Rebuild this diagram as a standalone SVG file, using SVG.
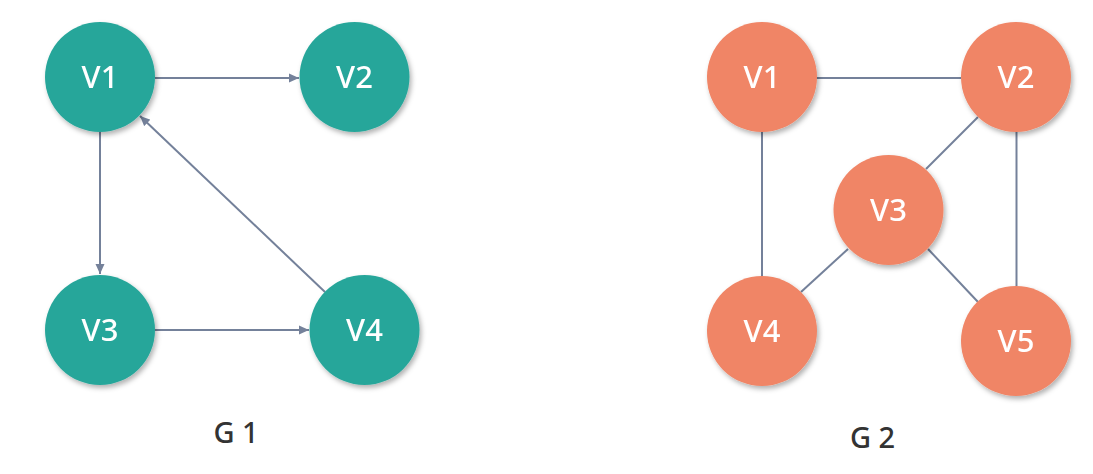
<svg xmlns="http://www.w3.org/2000/svg" width="1093" height="474" viewBox="0 0 1093 474">
<style>
.edge{stroke:#74819a;stroke-width:2;fill:none}
.g1 circle{fill:#27a69a}
.g2 circle{fill:#f08566}
.node{filter:url(#sh)}
.lbl{font-family:"Noto Sans","Open Sans",sans-serif;font-size:31px;font-weight:500;fill:#ffffff;text-anchor:middle}
.cap{font-family:"Noto Sans","Open Sans",sans-serif;font-size:29px;font-weight:500;fill:#333333;text-anchor:middle}
</style>
<defs>
<filter id="sh" x="-30%" y="-30%" width="160%" height="160%">
<feDropShadow dx="2" dy="3" stdDeviation="2.5" flood-color="#000" flood-opacity="0.3"/>
</filter>
<marker id="arr" viewBox="0 0 10 10" refX="10" refY="5" markerWidth="10" markerHeight="10" markerUnits="userSpaceOnUse" orient="auto">
<path d="M0,0.5 L10,5 L0,9.5 Z" fill="#74819a"/>
</marker>
</defs>
<rect width="1093" height="474" fill="#ffffff"/>
<g id="connectors">
<line class="edge" x1="155" y1="78" x2="299" y2="78" marker-end="url(#arr)"/>
<line class="edge" x1="100" y1="132" x2="100" y2="274" marker-end="url(#arr)"/>
<line class="edge" x1="155" y1="330" x2="309" y2="330" marker-end="url(#arr)"/>
<line class="edge" x1="325" y1="292" x2="140" y2="116" marker-end="url(#arr)"/>
<line class="edge" x1="816" y1="78" x2="961" y2="78"/>
<line class="edge" x1="762" y1="132" x2="762" y2="276"/>
<line class="edge" x1="1016.5" y1="132" x2="1016.5" y2="286"/>
<line class="edge" x1="978" y1="117" x2="926" y2="169"/>
<line class="edge" x1="848" y1="249" x2="801" y2="292"/>
<line class="edge" x1="928" y1="249" x2="978" y2="302"/>
</g>
<g class="g1">
<g id="g1-v1" class="node"><circle cx="100" cy="77" r="55"/><text class="lbl" x="100" y="88">V1</text></g>
<g id="g1-v2" class="node"><circle cx="354.5" cy="77" r="55"/><text class="lbl" x="354.5" y="88">V2</text></g>
<g id="g1-v3" class="node"><circle cx="100" cy="330" r="55"/><text class="lbl" x="100" y="341">V3</text></g>
<g id="g1-v4" class="node"><circle cx="364.5" cy="330" r="55"/><text class="lbl" x="364.5" y="341">V4</text></g>
</g>
<g class="g2">
<g id="g2-v1" class="node"><circle cx="762" cy="77" r="55"/><text class="lbl" x="762" y="88">V1</text></g>
<g id="g2-v2" class="node"><circle cx="1016" cy="77" r="55"/><text class="lbl" x="1016" y="88">V2</text></g>
<g id="g2-v3" class="node"><circle cx="888.5" cy="210" r="55"/><text class="lbl" x="888.5" y="221">V3</text></g>
<g id="g2-v4" class="node"><circle cx="762" cy="331" r="55"/><text class="lbl" x="762" y="342">V4</text></g>
<g id="g2-v5" class="node"><circle cx="1016" cy="341" r="55"/><text class="lbl" x="1016" y="352">V5</text></g>
</g>
<text id="cap-g1" class="cap" x="236" y="443">G 1</text>
<text id="cap-g2" class="cap" x="872.5" y="448">G 2</text>
</svg>
